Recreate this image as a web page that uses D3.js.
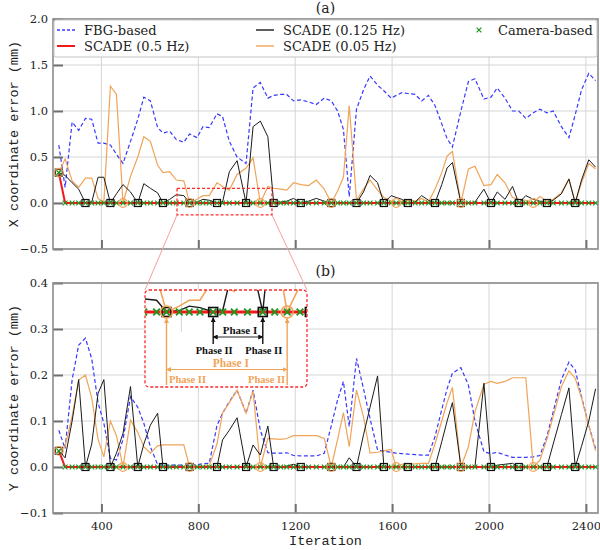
<!DOCTYPE html>
<html>
<head>
<meta charset="utf-8">
<script src="https://cdn.jsdelivr.net/npm/d3@7"></script>
<style>
  body { margin: 0; background: #fff; }
</style>
</head>
<body>
<div id="chart"></div>
<script>
// sample iterations shared by every series
const iterations = [
  224, 250, 279, 306, 334, 360, 386, 410, 437, 462,
  489, 520, 550, 575, 602, 632, 654, 682, 709, 740,
  764, 795, 819, 845, 877, 900, 928, 960, 997, 1026,
  1056, 1087, 1111, 1140, 1165, 1193, 1223, 1255, 1287, 1320,
  1349, 1375, 1399, 1423, 1453, 1482, 1509, 1540, 1566, 1596,
  1617, 1640, 1665, 1695, 1722, 1750, 1777, 1805, 1827, 1849,
  1884, 1915, 1942, 1979, 2008, 2034, 2066, 2097, 2123, 2152,
  2183, 2210, 2239, 2265, 2299, 2330, 2356, 2382, 2412, 2440
];

// (a) X coordinate error (mm)
const fbgX = [
  0.63, 0.17, 0.88, 0.79, 0.92, 0.91, 0.65, 0.65, 0.63, 0.53,
  0.43, 0.67, 0.91, 1.15, 1.11, 0.82, 0.76, 0.78, 0.69, 0.66,
  0.75, 0.71, 0.83, 0.82, 0.97, 0.94, 0.67, 0.50, 0.43, 1.25,
  1.31, 1.14, 1.17, 1.18, 1.18, 1.11, 1.12, 1.10, 1.07, 1.14,
  1.11, 1.00, 0.80, 0.07, 1.02, 1.23, 1.38, 1.28, 1.22, 1.14,
  1.17, 1.20, 1.19, 1.18, 1.11, 1.17, 1.06, 0.86, 0.70, 0.61,
  1.00, 1.32, 1.35, 1.13, 1.15, 1.25, 1.14, 1.00, 1.00, 0.92,
  0.98, 1.02, 0.98, 1.00, 0.83, 0.71, 0.96, 1.23, 1.41, 1.33
];
const scade05X = [
  0.33, 0, 0, 0, 0, 0, 0, 0, 0, 0,
  0, 0, 0, 0, 0, 0, 0, 0, 0, 0,
  0, 0, 0, 0, 0, 0, 0, 0, 0, 0,
  0, 0, 0, 0, 0, 0, 0, 0, 0, 0,
  0, 0, 0, 0, 0, 0, 0, 0, 0, 0,
  0, 0, 0, 0, 0, 0, 0, 0, 0, 0,
  0, 0, 0, 0, 0, 0, 0, 0, 0, 0,
  0, 0, 0, 0, 0, 0, 0, 0, 0, 0
];
const scade0125X = [
  0.33, 0.30, 0.22, 0.15, 0, 0.01, 0.28, 0.28, 0, 0.10,
  0.20, 0.12, 0, 0.21, 0.16, 0.11, 0, 0.04, 0.09, 0.08,
  0, 0.01, 0.04, 0.03, 0, 0.01, 0.34, 0.46, 0, 0.83,
  0.89, 0.72, 0, 0.01, 0.02, 0.05, 0, 0.02, 0.05, 0.02,
  0, 0, 0, 0, 0, 0.12, 0.30, 0.22, 0, 0.08,
  0.06, 0.04, 0, 0.01, 0.08, 0.03, 0, 0.20, 0.38, 0.44,
  0, 0, 0.01, 0.15, 0, 0.12, 0.04, 0.18, 0, 0.08,
  0.04, 0.02, 0, 0.03, 0.10, 0.26, 0, 0.25, 0.47, 0.39
];
const scade005X = [
  0.33, 0.48, 0.24, 0.17, 0.27, 0.27, 0.05, 0.01, 1.27, 1.18,
  0, 0.29, 0.50, 0.72, 0.67, 0.41, 0.33, 0.34, 0.25, 0.24,
  0, 0.04, 0.08, 0.08, 0.22, 0.18, 0.14, 0.31, 0.38, 0.49,
  0, 0.18, 0.16, 0.15, 0.14, 0.22, 0.20, 0.19, 0.25, 0.15,
  0, 0.13, 0.28, 1.06, 0.03, 0.15, 0.25, 0.14, 0.06, 0.02,
  0, 0.02, 0.03, 0.02, 0.05, 0.01, 0.15, 0.33, 0.51, 0.56,
  0, 0.37, 0.40, 0.19, 0.20, 0.31, 0.22, 0.06, 0.04, 0.03,
  0, 0.07, 0.02, 0.04, 0.11, 0.26, 0.01, 0.22, 0.43, 0.37
];
const cameraX = [
  0.33, 0, 0, 0, 0, 0, 0, 0, 0, 0,
  0, 0, 0, 0, 0, 0, 0, 0, 0, 0,
  0, 0, 0, 0, 0, 0, 0, 0, 0, 0,
  0, 0, 0, 0, 0, 0, 0, 0, 0, 0,
  0, 0, 0, 0, 0, 0, 0, 0, 0, 0,
  0, 0, 0, 0, 0, 0, 0, 0, 0, 0,
  0, 0, 0, 0, 0, 0, 0, 0, 0, 0,
  0, 0, 0, 0, 0, 0, 0, 0, 0, 0
];

// (b) Y coordinate error (mm)
const fbgY = [
  0.080, 0.040, 0.19, 0.265, 0.280, 0.235, 0.14, 0.095, 0.019, 0.015,
  0.06, 0.153, 0.13, 0.095, 0.044, 0.005, 0.004, 0.004, 0.004, 0.004,
  0.004, 0.005, 0.007, 0.008, 0.09, 0.117, 0.142, 0.167, 0.117, 0.167,
  0.080, 0.031, 0.030, 0.030, 0.031, 0.025, 0.024, 0.024, 0.024, 0.030,
  0.09, 0.146, 0.186, 0.088, 0.236, 0.170, 0.105, 0.037, 0.034, 0.032,
  0.030, 0.029, 0.028, 0.027, 0.026, 0.026, 0.066, 0.125, 0.17, 0.204,
  0.216, 0.178, 0.10, 0.033, 0.029, 0.032, 0.026, 0.021, 0.021, 0.021,
  0.022, 0.025, 0.066, 0.12, 0.19, 0.228, 0.211, 0.153, 0.09, 0.04
];
const scade05Y = [
  0.035, 0, 0, 0, 0, 0, 0, 0, 0, 0,
  0, 0, 0, 0, 0, 0, 0, 0, 0, 0,
  0, 0, 0, 0, 0, 0, 0, 0, 0, 0,
  0, 0, 0, 0, 0, 0, 0, 0, 0, 0,
  0, 0, 0, 0, 0, 0, 0, 0, 0, 0,
  0, 0, 0, 0, 0, 0, 0, 0, 0, 0,
  0, 0, 0, 0, 0, 0, 0, 0, 0, 0,
  0, 0, 0, 0, 0, 0, 0, 0, 0, 0
];
const scade0125Y = [
  0.035, 0.02, 0.10, 0.19, 0, 0.05, 0.16, 0.19, 0, 0.03,
  0.073, 0.175, 0, 0.05, 0.091, 0.117, 0, 0, 0, 0,
  0, 0, 0, 0, 0, 0.059, 0.08, 0.107, 0, 0.048,
  0.026, 0.089, 0, 0, 0.002, 0.006, 0, 0, 0, 0,
  0, 0, 0, 0.02, 0, 0.07, 0.13, 0.198, 0, 0,
  0, 0, 0, 0, 0, 0, 0, 0.055, 0.10, 0.14,
  0, 0, 0, 0.182, 0, 0.004, 0.006, 0.008, 0, 0,
  0, 0, 0, 0.05, 0.114, 0.172, 0, 0.045, 0.10, 0.17
];
const scade005Y = [
  0.035, 0.044, 0.11, 0.189, 0.200, 0.150, 0.06, 0.022, 0.100, 0.068,
  0, 0.102, 0.075, 0.044, 0.030, 0.046, 0.048, 0.048, 0.048, 0.048,
  0, 0.002, 0.002, 0.003, 0.05, 0.117, 0.14, 0.167, 0.117, 0.165,
  0, 0.062, 0.061, 0.06, 0.062, 0.068, 0.068, 0.068, 0.068, 0.062,
  0, 0.06, 0.118, 0.044, 0.167, 0.109, 0.03, 0.032, 0.035, 0.038,
  0, 0.006, 0.007, 0.007, 0.008, 0.008, 0.05, 0.10, 0.14, 0.173,
  0, 0.044, 0.12, 0.18, 0.186, 0.182, 0.186, 0.194, 0.194, 0.194,
  0, 0.015, 0.06, 0.11, 0.175, 0.209, 0.193, 0.15, 0.09, 0.035
];
const cameraY = [
  0.035, 0, 0, 0, 0, 0, 0, 0, 0, 0,
  0, 0, 0, 0, 0, 0, 0, 0, 0, 0,
  0, 0, 0, 0, 0, 0, 0, 0, 0, 0,
  0, 0, 0, 0, 0, 0, 0, 0, 0, 0,
  0, 0, 0, 0, 0, 0, 0, 0, 0, 0,
  0, 0, 0, 0, 0, 0, 0, 0, 0, 0,
  0, 0, 0, 0, 0, 0, 0, 0, 0, 0,
  0, 0, 0, 0, 0, 0, 0, 0, 0, 0
];

// phase II (reset) iterations: squares for 0.125 Hz, circles for 0.05 Hz
const phase2Iter0125 = [224, 334, 437, 550, 654, 764, 877, 997, 1111, 1223,
  1349, 1453, 1566, 1665, 1777, 1884, 2008, 2123, 2239, 2356];
const phase2Iter005 = [224, 489, 764, 1056, 1349, 1617, 1884, 2183];

const xTicks = [400, 800, 1200, 1600, 2000, 2400];
const yTicksA = [-0.5, 0.0, 0.5, 1.0, 1.5, 2.0];
const yTicksB = [-0.1, 0.0, 0.1, 0.2, 0.3, 0.4];

const legendItems = [
  {label: "FBG-based", kind: "fbg", col: 0, row: 0},
  {label: "SCADE (0.5 Hz)", kind: "s05", col: 0, row: 1},
  {label: "SCADE (0.125 Hz)", kind: "s0125", col: 1, row: 0},
  {label: "SCADE (0.05 Hz)", kind: "s005", col: 1, row: 1},
  {label: "Camera-based", kind: "cam", col: 2, row: 0}
];

const colors = {fbg: "#3838ff", s05: "#f01818", s0125: "#1a1a1a", s005: "#f0a458", cam: "#1e961e"};
const mono = "'Liberation Mono', 'DejaVu Sans Mono', monospace";
const roman = "'DejaVu Serif', serif";
const serif = "'Liberation Serif', 'DejaVu Serif', serif";

const width = 600, height = 550;
const left = 53, right = 598;

const svg = d3.select("#chart").append("svg")
  .attr("width", width)
  .attr("height", height)
  .attr("viewBox", [0, 0, width, height]);

const defs = svg.append("defs");
["#111", colors.s005].forEach((c, i) => {
  defs.append("marker")
    .attr("id", "arrow" + i)
    .attr("viewBox", "0 0 10 10")
    .attr("refX", 9).attr("refY", 5)
    .attr("markerWidth", 5).attr("markerHeight", 5)
    .attr("markerUnits", "userSpaceOnUse")
    .attr("orient", "auto-start-reverse")
    .append("path").attr("d", "M0,0L10,5L0,10z").attr("fill", c);
});

const x = d3.scaleLinear().domain([200, 2450]).range([left, right]);

// draws the lines and markers of one panel with the given scales
function drawSeries(g, xs, ys, s, st) {
  const line = d3.line().x((d, i) => xs(iterations[i])).y(d => ys(d));
  g.append("path").datum(s.fbg).attr("d", line)
    .attr("fill", "none").attr("stroke", colors.fbg).attr("stroke-width", st.lw + 0.2)
    .attr("stroke-dasharray", "4,2.5");
  g.append("path").datum(s.s005).attr("d", line)
    .attr("fill", "none").attr("stroke", colors.s005).attr("stroke-width", st.lw + 0.2);
  g.append("path").datum(s.s0125).attr("d", line)
    .attr("fill", "none").attr("stroke", colors.s0125).attr("stroke-width", st.lw);
  g.append("path").datum(s.s05).attr("d", line)
    .attr("fill", "none").attr("stroke", colors.s05).attr("stroke-width", st.redW);

  const m = st.mark;
  g.append("g").selectAll("path").data(s.cam).join("path")
    .attr("transform", (d, i) => `translate(${xs(iterations[i])},${ys(d)})`)
    .attr("d", `M${-m},${-m}L${m},${m}M${-m},${m}L${m},${-m}`)
    .attr("stroke", colors.cam).attr("stroke-width", st.markW).attr("fill", "none");

  g.append("g").selectAll("rect").data(phase2Iter0125).join("rect")
    .attr("x", d => xs(d) - st.sq / 2)
    .attr("y", d => ys(s.s0125[iterations.indexOf(d)]) - st.sq / 2)
    .attr("width", st.sq).attr("height", st.sq)
    .attr("fill", "none").attr("stroke", "#111").attr("stroke-width", st.sqW);

  g.append("g").selectAll("circle").data(phase2Iter005).join("circle")
    .attr("cx", d => xs(d))
    .attr("cy", d => ys(s.s005[iterations.indexOf(d)]))
    .attr("r", st.circ)
    .attr("fill", "none").attr("stroke", colors.s005).attr("stroke-width", st.sqW);
}

const panels = [
  {id: "a", top: 19, bottom: 249, domain: [-0.5, 2.0], yTicks: yTicksA,
   fbg: fbgX, s05: scade05X, s0125: scade0125X, s005: scade005X, cam: cameraX,
   ylabel: "X coordinate error (mm)", title: "(a)", titleY: 13, xLabels: false},
  {id: "b", top: 283, bottom: 513, domain: [-0.1, 0.4], yTicks: yTicksB,
   fbg: fbgY, s05: scade05Y, s0125: scade0125Y, s005: scade005Y, cam: cameraY,
   ylabel: "Y coordinate error (mm)", title: "(b)", titleY: 276, xLabels: true}
];

const mainStyle = {lw: 1, redW: 2, mark: 2.4, markW: 1.2, sq: 7, sqW: 1.2, circ: 4.3};
const scalesY = {};

panels.forEach(p => {
  const y = d3.scaleLinear().domain(p.domain).range([p.bottom, p.top]);
  scalesY[p.id] = y;
  const g = svg.append("g");

  // grid
  g.append("g").selectAll("line").data(xTicks).join("line")
    .attr("x1", d => x(d)).attr("x2", d => x(d))
    .attr("y1", p.top).attr("y2", p.bottom)
    .attr("stroke", "#d6d6d6").attr("stroke-width", 1);
  g.append("g").selectAll("line").data(p.yTicks).join("line")
    .attr("x1", left).attr("x2", right)
    .attr("y1", d => y(d)).attr("y2", d => y(d))
    .attr("stroke", "#d6d6d6").attr("stroke-width", 1);

  svg.append("clipPath").attr("id", "clip-" + p.id)
    .append("rect").attr("x", left).attr("y", p.top)
    .attr("width", right - left).attr("height", p.bottom - p.top);
  const plot = g.append("g").attr("clip-path", `url(#clip-${p.id})`);
  drawSeries(plot, x, y, p, mainStyle);

  // axes with inward ticks
  g.append("g").attr("transform", `translate(${left},0)`)
    .call(d3.axisLeft(y).tickValues(p.yTicks).tickSize(-10).tickPadding(5).tickFormat(d3.format(".1f")))
    .call(a => a.select(".domain").remove())
    .call(a => a.selectAll(".tick line").attr("stroke", "#707070").attr("stroke-width", 2))
    .call(a => a.selectAll("text").attr("font-family", roman).attr("font-size", 11.5).attr("fill", "#222"));

  g.append("g").attr("transform", `translate(0,${p.bottom})`)
    .call(d3.axisBottom(x).tickValues(xTicks).tickSize(-9).tickPadding(9)
      .tickFormat(p.xLabels ? d3.format("d") : () => ""))
    .call(a => a.select(".domain").remove())
    .call(a => a.selectAll(".tick line").attr("stroke", "#707070").attr("stroke-width", 2))
    .call(a => a.selectAll("text").attr("font-family", roman).attr("font-size", 11.5).attr("fill", "#222"));

  g.append("rect")
    .attr("x", left).attr("y", p.top)
    .attr("width", right - left).attr("height", p.bottom - p.top)
    .attr("fill", "none").attr("stroke", "#8c8c8c").attr("stroke-width", 1.6);

  g.append("text")
    .attr("transform", `translate(14,${(p.top + p.bottom) / 2}) rotate(-90)`)
    .attr("text-anchor", "middle").attr("dominant-baseline", "central")
    .attr("font-family", mono).attr("font-size", 13.5).attr("fill", "#222")
    .text(p.ylabel);

  svg.append("text")
    .attr("x", (left + right) / 2).attr("y", p.titleY)
    .attr("text-anchor", "middle")
    .attr("font-family", roman).attr("font-size", 14).attr("fill", "#222")
    .text(p.title);
});

svg.append("text")
  .attr("x", (left + right) / 2).attr("y", 545)
  .attr("text-anchor", "middle")
  .attr("font-family", mono).attr("font-size", 13.5).attr("fill", "#222")
  .text("Iteration");

// legend of panel (a)
const leg = svg.append("g");
leg.append("rect").attr("x", left + 1).attr("y", 20).attr("width", right - left - 2).attr("height", 37)
  .attr("fill", "#fff").attr("stroke", "#c4c4c4").attr("stroke-width", 1).attr("rx", 2);
const colX = [57, 256, 470];
const rowY = [30, 46];
legendItems.forEach(it => {
  const lx = colX[it.col], ly = rowY[it.row];
  if (it.kind === "cam") {
    leg.append("path").attr("transform", `translate(${lx + 9},${ly})`)
      .attr("d", "M-2.4,-2.4L2.4,2.4M-2.4,2.4L2.4,-2.4")
      .attr("stroke", colors.cam).attr("stroke-width", 1.2);
  } else {
    leg.append("line").attr("x1", lx).attr("x2", lx + 18).attr("y1", ly).attr("y2", ly)
      .attr("stroke", colors[it.kind])
      .attr("stroke-width", it.kind === "s05" ? 2 : 1.4)
      .attr("stroke-dasharray", it.kind === "fbg" ? "3,2" : null);
  }
  leg.append("text").attr("x", it.kind === "cam" ? lx + 28 : lx + 27).attr("y", ly)
    .attr("dominant-baseline", "central")
    .attr("font-family", roman).attr("font-size", 13).attr("fill", "#222")
    .text(it.label);
});

// zoom: source window in (a) and inset in (b)
const yA = scalesY.a;
const zoomIter = [712, 1104];
const zoomVal = [-0.13, 0.16];
const inset = {x0: 145, x1: 307, y0: 290, y1: 387};

svg.append("g").selectAll("line").data([0, 1]).join("line")
  .attr("x1", d => x(zoomIter[d])).attr("y1", yA(zoomVal[0]))
  .attr("x2", d => d ? inset.x1 : inset.x0).attr("y2", inset.y0)
  .attr("stroke", "#f4a0a0").attr("stroke-width", 1);

svg.append("rect")
  .attr("x", x(zoomIter[0])).attr("y", yA(zoomVal[1]))
  .attr("width", x(zoomIter[1]) - x(zoomIter[0])).attr("height", yA(zoomVal[0]) - yA(zoomVal[1]))
  .attr("fill", "none").attr("stroke", "#ff2a2a").attr("stroke-width", 1.3).attr("stroke-dasharray", "3,2");

const xi = d3.scaleLinear().domain(zoomIter).range([inset.x0, inset.x1]);
const yi = d3.scaleLinear().domain([0, 0.15]).range([312, 290]);

const ins = svg.append("g");
ins.append("rect").attr("x", inset.x0).attr("y", inset.y0)
  .attr("width", inset.x1 - inset.x0).attr("height", inset.y1 - inset.y0)
  .attr("fill", "#fff").attr("rx", 4);
svg.append("clipPath").attr("id", "clip-inset")
  .append("rect").attr("x", inset.x0).attr("y", inset.y0)
  .attr("width", inset.x1 - inset.x0).attr("height", inset.y1 - inset.y0);
ins.append("line").attr("x1", xi(800)).attr("x2", xi(800)).attr("y1", inset.y0).attr("y2", 332)
  .attr("stroke", "#d6d6d6");
const insPlot = ins.append("g").attr("clip-path", "url(#clip-inset)");
drawSeries(insPlot, xi, yi, panels[0], {lw: 1.4, redW: 3, mark: 3.3, markW: 1.8, sq: 9, sqW: 1.6, circ: 6});

// phase annotations
const blackAt = [877, 997];
const orangeAt = [764, 1056];
blackAt.forEach(it => {
  ins.append("line").attr("x1", xi(it)).attr("x2", xi(it)).attr("y1", 344).attr("y2", 317.5)
    .attr("stroke", "#111").attr("stroke-width", 1.4).attr("marker-end", "url(#arrow0)");
  ins.append("text").attr("x", xi(it) + 1).attr("y", 353.5).attr("text-anchor", "middle")
    .attr("font-family", serif).attr("font-weight", "bold").attr("font-size", 10.5).attr("fill", "#111")
    .text("Phase II");
});
ins.append("line").attr("x1", xi(blackAt[0])).attr("x2", xi(blackAt[1])).attr("y1", 337).attr("y2", 337)
  .attr("stroke", "#111").attr("stroke-width", 0.9)
  .attr("marker-start", "url(#arrow0)").attr("marker-end", "url(#arrow0)");
ins.append("text").attr("x", (xi(blackAt[0]) + xi(blackAt[1])) / 2 + 2).attr("y", 334)
  .attr("text-anchor", "middle")
  .attr("font-family", serif).attr("font-weight", "bold").attr("font-size", 11).attr("fill", "#111")
  .text("Phase I");

orangeAt.forEach((it, i) => {
  ins.append("line").attr("x1", xi(it)).attr("x2", xi(it)).attr("y1", 385).attr("y2", 318.5)
    .attr("stroke", colors.s005).attr("stroke-width", 1.4).attr("marker-end", "url(#arrow1)");
  ins.append("text").attr("x", i ? xi(it) - 2 : xi(it) + 2.5).attr("y", 383)
    .attr("text-anchor", i ? "end" : "start")
    .attr("font-family", serif).attr("font-weight", "bold").attr("font-size", 10.5).attr("fill", colors.s005)
    .text("Phase II");
});
ins.append("line").attr("x1", xi(orangeAt[0])).attr("x2", xi(orangeAt[1])).attr("y1", 369.5).attr("y2", 369.5)
  .attr("stroke", colors.s005).attr("stroke-width", 1)
  .attr("marker-start", "url(#arrow1)").attr("marker-end", "url(#arrow1)");
ins.append("text").attr("x", (xi(orangeAt[0]) + xi(orangeAt[1])) / 2 + 4).attr("y", 367)
  .attr("text-anchor", "middle")
  .attr("font-family", serif).attr("font-weight", "bold").attr("font-size", 11.5).attr("fill", colors.s005)
  .text("Phase I");

ins.append("rect").attr("x", inset.x0).attr("y", inset.y0)
  .attr("width", inset.x1 - inset.x0).attr("height", inset.y1 - inset.y0)
  .attr("fill", "none").attr("rx", 4)
  .attr("stroke", "#ff2a2a").attr("stroke-width", 1.3).attr("stroke-dasharray", "3,2");
</script>
</body>
</html>
